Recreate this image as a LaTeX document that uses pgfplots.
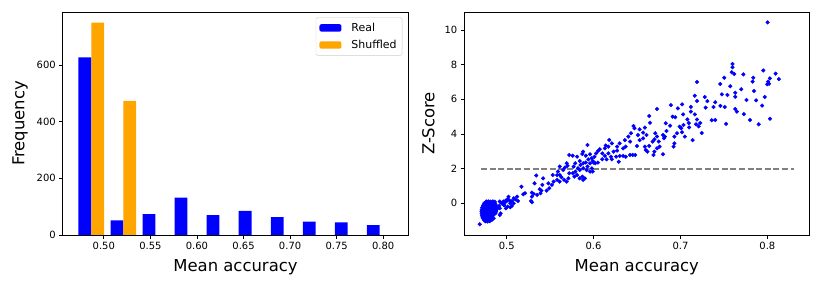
\documentclass[border=0pt]{standalone}
\usepackage{fontspec}
\setmainfont{DejaVu Sans}
\usepackage{pgfplots}
\usepackage{pgfplotstable}
\pgfplotsset{compat=1.18}
\definecolor{mplorange}{RGB}{255,165,0}
\definecolor{mplgray}{RGB}{128,128,128}

\pgfplotstableread{
x y
0.47972 627
0.51412 52
0.54852 74
0.58292 132
0.61732 70
0.65172 85
0.68612 63
0.72052 47
0.75492 45
0.78932 35
}\realdata
\pgfplotstableread{
x y
0.49348 750
0.52788 474
}\shufdata

\pgfplotstableread{
x y
0.8003 10.44
0.760 8.04
0.760 7.85
0.759 7.56
0.762 7.46
0.7504 7.25
0.7723 7.44
0.7838 7.25
0.7953 7.67
0.8095 7.48
0.8133 7.17
0.803 7.21
0.801 7.02
0.800 6.87
0.802 6.90
0.783 7.02
0.719 7.00
0.7458 6.88
0.7573 6.75
0.770 6.58
0.7846 6.48
0.7631 6.38
0.7477 6.29
0.754 6.25
0.763 6.15
0.797 6.13
0.7165 6.21
0.728 6.13
0.731 5.90
0.719 5.90
0.740 5.83
0.776 5.96
0.787 5.94
0.702 5.71
0.712 5.56
0.729 5.52
0.738 5.56
0.746 5.62
0.751 5.56
0.794 5.64
0.763 5.44
0.765 5.29
0.773 5.15
0.712 5.29
0.7165 5.13
0.703 5.13
0.719 4.84
0.736 4.79
0.740 4.81
0.7525 4.58
0.780 4.81
0.803 4.88
0.790 4.56
0.708 4.84
0.718 4.56
0.7227 4.63
0.721 4.44
0.7096 4.63
0.710 4.38
0.7034 4.52
0.701 4.33
0.7018 4.10
0.705 3.85
0.7245 4.06
0.714 3.65
0.697 5.48
0.689 5.67
0.691 5.00
0.694 4.96
0.664 5.04
0.673 5.44
0.683 4.62
0.688 4.48
0.684 4.17
0.665 4.65
0.659 4.37
0.696 4.04
0.693 3.85
0.699 4.42
0.671 4.04
0.673 3.85
0.670 3.69
0.675 3.56
0.680 3.94
0.682 3.85
0.681 3.75
0.668 3.56
0.676 3.27
0.673 3.17
0.670 2.98
0.669 2.79
0.680 2.83
0.693 3.46
0.692 3.27
0.646 4.46
0.647 4.33
0.643 4.04
0.640 3.85
0.653 4.27
0.651 3.94
0.653 3.65
0.657 4.08
0.657 3.75
0.661 3.94
0.659 3.27
0.660 3.08
0.662 2.98
0.664 3.31
0.650 3.31
0.642 3.56
0.636 3.65
0.637 3.27
0.634 3.17
0.642 2.79
0.645 2.79
0.648 2.79
0.630 3.46
0.627 3.27
0.621 3.46
0.618 3.65
0.617 3.27
0.623 2.98
0.627 3.04
0.630 2.73
0.626 2.69
0.629 2.40
0.637 2.69
0.634 2.73
0.614 3.33
0.613 3.17
0.610 2.88
0.613 2.73
0.617 2.88
0.620 2.69
0.621 2.54
0.615 2.54
0.610 2.54
0.607 3.12
0.605 3.02
0.603 2.88
0.601 2.69
0.600 2.35
0.605 2.35
0.593 3.37
0.588 2.98
0.587 2.85
0.591 2.75
0.596 2.83
0.598 2.60
0.594 2.54
0.599 2.44
0.596 2.31
0.591 2.35
0.588 2.31
0.585 2.21
0.584 2.44
0.581 2.69
0.579 2.31
0.577 2.12
0.593 2.12
0.598 2.02
0.602 2.31
0.599 1.83
0.596 1.83
0.592 1.92
0.588 2.02
0.584 1.92
0.582 2.02
0.579 1.83
0.581 1.63
0.576 1.73
0.578 1.54
0.587 1.54
0.588 1.35
0.590 1.44
0.584 1.44
0.572 1.73
0.571 1.44
0.569 1.25
0.566 1.35
0.572 2.79
0.576 2.75
0.569 2.31
0.570 2.17
0.567 2.06
0.565 1.92
0.561 2.12
0.559 1.83
0.561 1.63
0.563 1.50
0.558 1.63
0.553 1.63
0.558 1.35
0.561 1.25
0.554 1.25
0.552 1.06
0.548 1.15
0.549 0.87
0.546 0.73
0.542 1.44
0.541 1.06
0.540 0.73
0.538 0.81
0.539 0.58
0.534 1.60
0.532 1.15
0.531 0.54
0.535 0.48
0.529 0.62
0.529 0.38
0.528 0.13
0.529 0.06
0.517 0.96
0.521 0.58
0.519 0.52
0.512 0.38
0.513 0.13
0.510 0.23
0.508 0.29
0.506 0.13
0.502 0.38
0.501 0.23
0.503 0.17
0.508 0.00
0.504 0.00
0.500 0.13
0.498 0.04
0.497 -0.10
0.506 -0.15
0.504 -0.23
0.501 -0.19
0.496 0.10
0.494 0.00
0.492 0.10
0.492 -0.29
0.489 -0.29
0.492 -0.67
0.488 -0.38
0.487 -0.58
0.485 -0.87
0.469 -1.21
0.4911 -0.16
0.4969 -0.10
0.4930 -0.58
0.4988 0.15
0.4990 -0.29
0.4765 0.10
0.4790 0.11
0.4815 0.10
0.4840 0.11
0.4862 0.09
0.4742 0.00
0.4767 -0.01
0.4792 0.00
0.4817 -0.01
0.4842 0.00
0.4867 -0.01
0.4728 -0.12
0.4753 -0.12
0.4778 -0.12
0.4803 -0.12
0.4828 -0.12
0.4853 -0.12
0.4878 -0.12
0.4718 -0.24
0.4743 -0.24
0.4768 -0.24
0.4793 -0.24
0.4818 -0.24
0.4843 -0.24
0.4868 -0.24
0.4888 -0.24
0.4712 -0.36
0.4737 -0.36
0.4762 -0.36
0.4787 -0.36
0.4812 -0.36
0.4837 -0.36
0.4862 -0.36
0.4882 -0.36
0.4710 -0.48
0.4733 -0.48
0.4758 -0.48
0.4783 -0.48
0.4808 -0.48
0.4833 -0.48
0.4858 -0.48
0.4878 -0.48
0.4712 -0.60
0.4737 -0.60
0.4762 -0.60
0.4787 -0.60
0.4812 -0.60
0.4837 -0.60
0.4860 -0.60
0.4716 -0.72
0.4741 -0.72
0.4766 -0.72
0.4791 -0.72
0.4816 -0.72
0.4840 -0.72
0.4722 -0.84
0.4747 -0.84
0.4772 -0.84
0.4797 -0.84
0.4822 -0.84
0.4842 -0.84
0.4735 -0.95
0.4760 -0.95
0.4785 -0.95
0.4810 -0.95
0.4830 -0.95
0.4755 -1.04
0.4780 -1.05
0.4805 -1.03
}\scatterdata

\begin{document}
\begin{tikzpicture}
\path[use as bounding box] (0,0) rectangle (822bp,288bp);
\pgfplotsset{
  myax/.style={
    scale only axis, width=345bp, height=223bp,
    axis line style={line width=0.8bp, black},
    tick align=outside, major tick length=3.5bp,
    tick style={line width=0.8bp, black},
    tick pos=left,
    tick label style={font=\fontsize{10}{12}\selectfont},
    /pgf/number format/assume math mode=true,
    label style={font=\fontsize{16.5}{19}\selectfont},
    xlabel style={at={(axis description cs:0.5,-0.1628)}, anchor=base},
  }
}
\begin{axis}[myax,
  at={(62.7bp,53bp)}, anchor=south west, width=345.6bp,
  xmin=0.4559, xmax=0.8269, ymin=0, ymax=787.5,
  xtick={0.5,0.55,0.6,0.65,0.7,0.75,0.8},
  xticklabels={0.50,0.55,0.60,0.65,0.70,0.75,0.80},
  ytick={0,200,400,600},
  xlabel={Mean accuracy}, ylabel={Frequency},
  ylabel style={at={(axis description cs:-0.1236,0.5)}, anchor=center},
  legend cell align=left,
  legend style={at={(1,1)}, anchor=north east, xshift=-6bp, yshift=-5.3bp,
    font=\fontsize{11}{13}\selectfont, draw=black!20, rounded corners=2bp,
    inner xsep=3.5bp, inner ysep=3.5bp, row sep=3.3bp,
    /tikz/every odd column/.append style={column sep=8bp}},
  legend image code/.code={\fill[#1] (0bp,-3.7bp) rectangle (22bp,3.7bp);},
]
\addplot[ybar, bar width=0.01376, bar shift=0pt, fill=blue, draw=none] table[x=x,y=y] {\realdata};
\addlegendentry{Real}
\addplot[ybar, bar width=0.01376, bar shift=0pt, fill=mplorange, draw=none] table[x=x,y=y] {\shufdata};
\addlegendentry{Shuffled}
\end{axis}

\begin{axis}[myax,
  at={(464.3bp,53bp)}, anchor=south west,
  xmin=0.4512, xmax=0.8483, ymin=-1.83, ymax=11.04,
  xtick={0.5,0.6,0.7,0.8},
  xticklabels={0.5,0.6,0.7,0.8},
  ytick={0,2,4,6,8,10},
  xlabel={Mean accuracy}, ylabel={Z-Score},
  ylabel style={at={(axis description cs:-0.1043,0.5)}, anchor=center},
]
\addplot[only marks, mark=*, mark size=1.85bp, blue, mark options={draw=none, fill=blue}] table[x=x,y=y] {\scatterdata};
\addplot[mplgray, line width=1.8bp, dash pattern=on 6bp off 2.6bp] coordinates {(0.4704,2) (0.831,2)};
\end{axis}
\end{tikzpicture}
\end{document}
